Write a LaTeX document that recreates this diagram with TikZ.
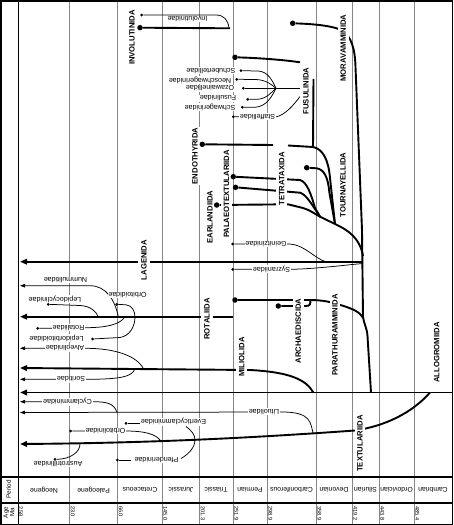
\documentclass[tikz,border=0pt]{standalone}
\usepackage{fontspec}
\setmainfont{Liberation Sans}
\usetikzlibrary{arrows.meta}
\pgfdeclarelayer{bg}
\pgfsetlayers{bg,main}
\begin{document}
\begin{tikzpicture}[x=1pt,y=-1pt,
  gridline/.style={gray!95,line width=0.75pt},
  ordline/.style={line width=1.9pt},
  famline/.style={line width=0.75pt},
  bigarrow/.style={-{Triangle[length=7pt,width=5.5pt]}},
  smallarrow/.style={-{Triangle[length=5pt,width=3.5pt]}},
  bigdot/.style={circle,fill,inner sep=0pt,minimum size=5.5pt},
  smalldot/.style={circle,fill,inner sep=0pt,minimum size=3pt},
  olab/.style={rotate=90,fill=white,inner xsep=1pt,inner ysep=2.8pt,font=\bfseries\fontsize{7.7}{8}\selectfont},
  flab/.style={rotate=180,fill=white,inner sep=0.8pt,font=\fontsize{7.1}{8}\selectfont},
  plab/.style={rotate=180,inner sep=0pt,font=\fontsize{6.8}{8}\selectfont},
  alab/.style={rotate=-90,anchor=west,inner sep=0pt,font=\fontsize{5.6}{6}\selectfont},
  rlab/.style={rotate=90,inner sep=0pt,align=center,font=\fontsize{6.3}{6.5}\selectfont},
]
\useasboundingbox (0,0) rectangle (453,525);

% ---------- order labels ----------
\node[olab] (oInv) at (132,37.5) {INVOLUTINIDA};
\node[olab] (oMor) at (343.3,48) {MORAVAMMINIDA};
\node[olab] (oFus) at (306,91) {FUSULINIDA};
\node[olab] (oEnd) at (195,156) {ENDOTHYRIDA};
\node[olab] (oEar) at (210,217) {EARLANDIIDA};
\node[olab] (oPal) at (226.5,194) {PALAEOTEXTULARIIDA};
\node[olab] (oTet) at (281.7,179) {TETRATAXIDA};
\node[olab] (oTou) at (343,185) {TOURNAYELLIDA};
\node[olab] (oLag) at (144,260) {LAGENIDA};
\node[olab] (oRot) at (207,319) {ROTALIIDA};
\node[olab] (oArc) at (298.3,331) {ARCHAEDISCIDA};
\node[olab] (oPar) at (335,335) {PARATHURAMMINIDA};
\node[olab] (oMil) at (241.7,357) {MILIOLIDA};
\node[olab] (oAll) at (436.7,352.5) {ALLOGROMIIDA};
\node[olab] (oTex) at (360,443.5) {TEXTULARIIDA};

% ---------- family labels ----------
\node[flab] (fInv) at (187.5,19) {Involutinidae};
\node[flab] (fSchu) at (211,70.7) {Schubertellidae};
\node[flab] (fNeo) at (200,80) {Neoschwagerinidae};
\node[flab] (fOza) at (210,88.3) {Ozawainellidae};
\node[flab] (fFus) at (218,98.3) {Fusulinidae};
\node[flab] (fSchw) at (210,107.3) {Schwagerinidae};
\node[flab] (fSta) at (257.5,116.7) {Staffellidae};
\node[flab] (fGei) at (266,244) {Geinitzinidae};
\node[flab] (fSyz) at (271.5,269.3) {Syzraniidae};
\node[flab] (fNum) at (65.5,280) {Nummulitidae};
\node[flab] (fLepc) at (55,299) {Lepidocyclinidae};
\node[flab] (fOrbd) at (127.5,295) {Orbitoididae};
\node[flab] (fRot) at (68.5,327.7) {Rotaliidae};
\node[flab] (fLepo) at (56.5,338.3) {Lepidorbitoididae};
\node[flab] (fAlv) at (65,348.3) {Alveolinidae};
\node[flab] (fSor) at (71,379.3) {Soritidae};
\node[flab] (fCyc) at (67.5,401.7) {Cyclamminidae};
\node[flab] (fLit) at (264,411.7) {Lituolidae};
\node[flab] (fEve) at (173.5,421.7) {Everticyclamminidae};
\node[flab] (fOrbl) at (105.5,431) {Orbitolinidae};
\node[flab] (fPfe) at (156.5,460) {Pfenderinidae};
\node[flab] (fAus) at (58,464) {Austrotrillinidae};

% ---------- dots ----------
\node[bigdot] (dInv) at (140,27.7) {};
\node[bigdot] (dMor) at (292.7,23.3) {};
\node[bigdot] (dFus) at (235,57.3) {};
\node[bigdot] (dEnd) at (202.3,144.3) {};
\node[bigdot] (dTou) at (306.7,167.7) {};
\node[bigdot] (dPal1) at (233.3,176.7) {};
\node[bigdot] (dPal2) at (235.5,187.3) {};
\node[bigdot] (dEar) at (216.7,205) {};
\node[bigdot] (dPar) at (235,300) {};
\node[bigdot] (dArc) at (278.3,306) {};
\node[smalldot] (dInvf) at (141.7,15) {};
\node[smalldot] (dSchu) at (241,70.7) {};
\node[smalldot] (dNeo) at (236.7,79.3) {};
\node[smalldot] (dOza) at (243.3,88.3) {};
\node[smalldot] (dFusf) at (247.7,99.3) {};
\node[smalldot] (dSchw) at (242.3,107.3) {};
\node[smalldot] (dSta) at (233.3,116.7) {};
\node[smalldot] (dGei) at (232.7,244) {};
\node[smalldot] (dSyz) at (232.7,269.3) {};
\node[smalldot] (dLepc) at (48.3,304.3) {};
\node[smalldot] (dOrbd) at (116.7,304.3) {};
\node[smalldot] (dRot) at (37.7,328.3) {};
\node[smalldot] (dLepo) at (92.7,339) {};
\node[smalldot] (dEve) at (126,423.3) {};
\node[smalldot] (dOrbl) at (70.7,431) {};
\node[smalldot] (dPfe) at (117.3,460) {};
\node[smalldot] (dAus) at (55,459.3) {};

\coordinate (J) at (335,224);
\coordinate (T) at (320,216.7);

% ---------- table ----------
\foreach \x/\p in {44/Neogene,93.5/Paleogene,140/Cretaceous,181/Jurassic,216/Triassic,250/Permian,291.5/Carboniferous,334/Devonian,365.5/Silurian,396.5/Ordovician,433/Cambrian}
  \node[plab] at (\x,490) {\p};
\foreach \x/\a in {20.7/2.58,72.7/23.0,120.7/66.0,165.2/145.0,202.7/201.3,236.2/251.9,270.2/298.9,319.2/358.9,355.2/419.2,382.2/443.8,417.2/485.4}
  \node[alab] at (\x,506) {\a};
\node[rlab] (rPer) at (8.5,489.5) {Period};
\node[rlab] (rAge) at (9,512.5) {Age\\Ma};
\draw[line width=1.4pt] (0,477) -- (453,477);
\draw[line width=1.2pt] (0,503) -- (453,503);
\draw[line width=1.5pt] (0.75,0.75) rectangle (452.25,524.25);

\begin{pgfonlayer}{bg}
% grid
\foreach \x in {69.5,117.5,162,199.5,233,267,316,352,379,414}
  \draw[gridline] (\x,1) -- (\x,524);
\draw[line width=0.8pt] (18,1) -- (18,524);

% Involutinida
\draw[ordline] (dInv) -- (230,28.3);
\draw[famline] (dInvf) -- (216,15) .. controls (224,15) and (228,20) .. (229,28);

% Moravamminida and main trunk
\draw[ordline] (dMor) .. controls (315,24) and (334,26) .. (342,30.5)
  .. controls (351,36) and (355,48) .. (355.5,67) -- (362,230) -- (363,317)
  .. controls (364,324) and (367,328) .. (367.5,336) -- (371,392.5);

% Fusulinida
\draw[ordline] (dFus) .. controls (260,58) and (285,60) .. (300,62.3);
\draw[ordline] (313.5,79) -- (313,147);
\draw[famline] (dSchu) -- (258,71) .. controls (268,71.5) and (272,80) .. (276,88.3);
\draw[famline] (dNeo) -- (256,79.5) .. controls (266,80) and (271,84) .. (276,88.3);
\draw[famline] (dOza) -- (300,88.3);
\draw[famline] (dFusf) -- (257,99.3) .. controls (266,99) and (271,93) .. (276,88.3);
\draw[famline] (dSchw) -- (255,107.3) .. controls (267,106.5) and (272,96) .. (276,88.3);
\draw[famline] (dSta) -- (277,116.7) .. controls (285,114.5) and (293,106) .. (300,96.5);

% Endothyrida, Tournayellida, Tetrataxida group
\draw[ordline] (dEnd) -- (273,145);
\draw[ordline] (288,145.5) -- (313,147) .. controls (323,149) and (328.5,160) .. (330,178) -- (J);
\draw[ordline] (dTou) -- (316.7,168.3) .. controls (324,169.5) and (328,177) .. (329.3,192) -- (J);
\draw[ordline] (dPal1) -- (300,180) .. controls (307,182) and (311,194) .. (315,208) -- (T);
\draw[ordline] (dPal2) -- (300,192.7) .. controls (306,194.5) and (311,203) .. (T);
\draw[ordline] (dEar) -- (288,204.3) -- (303,208) .. controls (310,210) and (315,214) .. (T) -- (J);
\draw[ordline] (J) .. controls (348,230) and (360,238) .. (363,256);

% Lagenida
\draw[ordline,bigarrow] (363,261.7) -- (20,261.7);
\draw[famline] (dGei) -- (290,244) .. controls (305,245) and (315,259) .. (326,261.7);
\draw[famline] (dSyz) -- (292,269.3) .. controls (320,268.5) and (345,265) .. (363,263.5);

% Rotaliida
\draw[ordline,bigarrow] (233,316.7) -- (20,316.7);
\draw[famline,smallarrow] (118.3,316.7) .. controls (115,300) and (106,285.7) .. (90,285.7) -- (20,285.7);
\draw[famline] (dLepc) -- (80,305.5) .. controls (90,306) and (96,311) .. (98.3,316.7);
\draw[famline] (dOrbd) -- (126,304.8) .. controls (132,305.5) and (135,311) .. (135,317)
  .. controls (135,326) and (130,336) .. (120,337.5) -- (dLepo);
\draw[famline] (dRot) -- (87,327.7) .. controls (105,327.5) and (120,325) .. (125,316.7);

% Parathuramminida, Archaediscida
\draw[ordline] (dPar) -- (310,300) .. controls (322,300) and (332,302) .. (342,305.5)
  .. controls (352,308.5) and (360,312) .. (363.3,318);
\draw[ordline] (dArc) -- (306,306) .. controls (310,306) and (310.5,304) .. (310.5,300);

% Miliolida
\draw[ordline,bigarrow] (313.3,392.5) .. controls (306,379) and (288,372) .. (250,370) -- (20,368);
\draw[famline,smallarrow] (143.3,368.5) .. controls (137,356) and (115,348.3) .. (86,348.3) -- (20,348.3);
\draw[famline,smallarrow] (135,368.7) .. controls (132,376) and (124,379.3) .. (86,379.3) -- (20,379.3);

% Allogromiida
\draw[ordline,bigarrow] (452,392.5) -- (20,392.5);

% Textulariida
\draw[ordline,bigarrow] (430,392.5) .. controls (412,413) and (385,426) .. (355,430.5)
  .. controls (250,438) and (150,443) .. (20,444);
\draw[famline,smallarrow] (117,412.5) .. controls (114,403) and (106,401.7) .. (93,401.7) -- (20,401.7);
\draw[famline,smallarrow] (313.3,433.5) .. controls (310,423) and (312,412) .. (282,412) -- (20,412.5);
\draw[famline] (dEve) -- (140,423.3);
\draw[famline] (186,426.5) .. controls (192,431) and (195,435) .. (195,440)
  .. controls (195,447) and (189,454) .. (181,458.5);
\draw[famline] (dPfe) -- (131,460);
\draw[famline] (dOrbl) -- (125,431) .. controls (145,431) and (155,434) .. (160,440);
\draw[famline] (80,443.5) .. controls (80.5,452) and (70,459.3) .. (dAus);
\end{pgfonlayer}
\end{tikzpicture}
\end{document}
